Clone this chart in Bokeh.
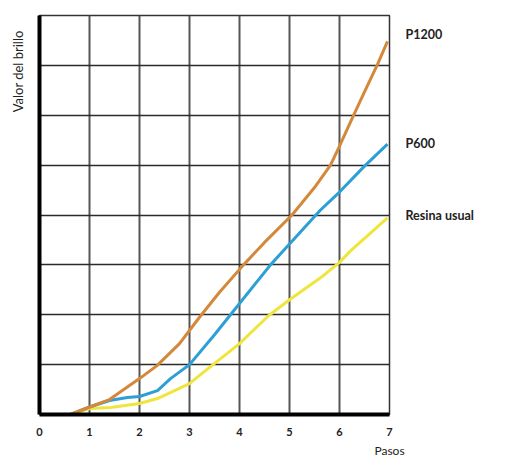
import math
from bokeh.plotting import figure
from bokeh.models import FixedTicker, Range1d, LinearAxis
from bokeh.embed import file_html
from bokeh.resources import INLINE

# Data
steps_tick = [0, 1, 2, 3, 4, 5, 6, 7]
grid_y = [1, 2, 3, 4, 5, 6, 7, 8]

p1200_x = [0.62, 1.0, 1.4, 2.0, 2.35, 2.8, 3.2, 3.6, 4.08, 4.5, 5.05, 5.5, 5.82, 6.0, 6.26, 6.5, 6.76, 6.96]
p1200_y = [0.0, 0.15, 0.3, 0.72, 0.98, 1.42, 1.95, 2.45, 3.0, 3.45, 4.0, 4.55, 5.0, 5.38, 5.95, 6.47, 7.02, 7.48]

p600_x = [0.62, 1.0, 1.4, 1.76, 2.0, 2.36, 2.62, 3.0, 3.5, 3.82, 4.62, 5.0, 5.62, 6.0, 6.5, 6.96]
p600_y = [0.0, 0.15, 0.28, 0.34, 0.36, 0.48, 0.72, 1.0, 1.6, 2.0, 3.0, 3.42, 4.1, 4.46, 4.98, 5.42]

resina_x = [0.62, 1.0, 1.42, 2.0, 2.36, 3.0, 3.22, 4.0, 4.58, 5.0, 5.62, 6.0, 6.22, 6.96]
resina_y = [0.0, 0.12, 0.14, 0.22, 0.32, 0.62, 0.8, 1.42, 1.98, 2.3, 2.74, 3.05, 3.28, 3.94]

series_names = ["P1200", "P600", "Resina usual"]
series_label_y = [7.62, 5.44, 3.98]

x_title = "Pasos"
y_title = "Valor del brillo"
y_title_pos = 6.88

W, H = 505, 460
p = figure(width=W, height=H, output_backend="svg", toolbar_location=None,
           x_range=Range1d(0, 7), y_range=Range1d(0, 8),
           min_border_left=39, min_border_right=116, min_border_top=15, min_border_bottom=45)
p.background_fill_color = "white"
p.border_fill_color = "white"
p.outline_line_color = "#333333"
p.outline_line_width = 1.5

p.xgrid.ticker = FixedTicker(ticks=steps_tick[1:])
p.ygrid.ticker = FixedTicker(ticks=grid_y)
p.xgrid.grid_line_color = "#555555"
p.xgrid.grid_line_width = 2
p.ygrid.grid_line_color = "#2a2a2a"
p.ygrid.grid_line_width = 1.5

def plain(ax):
    ax.major_tick_line_color = None
    ax.minor_tick_line_color = None
    ax.major_tick_out = 0
    ax.major_tick_in = 0

# main x axis
p.xaxis.ticker = FixedTicker(ticks=steps_tick)
p.xaxis.axis_line_width = 4
p.xaxis.axis_line_color = "black"
plain(p.xaxis[0])
p.xaxis.major_label_standoff = 13
p.xaxis.major_label_text_font = "Lato"
p.xaxis.major_label_text_font_style = "bold"
p.xaxis.major_label_text_font_size = "11px"
p.xaxis.major_label_text_color = "#222222"

# main y axis (thick line only)
p.yaxis.axis_line_width = 4
p.yaxis.axis_line_color = "black"
plain(p.yaxis[0])
p.yaxis.ticker = FixedTicker(ticks=[])
p.yaxis.major_label_text_font_size = "0px"

# "Pasos" title under the 7
ax_t = LinearAxis(ticker=FixedTicker(ticks=[7]), major_label_overrides={7: x_title},
                  axis_line_color=None, major_label_standoff=4,
                  major_label_text_font="Lato", major_label_text_font_size="12px",
                  major_label_text_color="#222222")
plain(ax_t)
p.add_layout(ax_t, "below")

# "Valor del brillo" vertical title near the top
ay_t = LinearAxis(ticker=FixedTicker(ticks=[y_title_pos]), major_label_overrides={y_title_pos: y_title},
                  axis_line_color=None, major_label_standoff=13, major_label_orientation="vertical",
                  major_label_text_font="Lato", major_label_text_font_size="13px",
                  major_label_text_color="#222222")
plain(ay_t)
p.add_layout(ay_t, "left")

# series names on the right
ar = LinearAxis(ticker=FixedTicker(ticks=series_label_y),
                major_label_overrides={v: n for v, n in zip(series_label_y, series_names)},
                axis_line_color=None, major_label_standoff=16,
                major_label_text_font="Lato", major_label_text_font_style="bold",
                major_label_text_font_size="12.5px", major_label_text_color="#222222")
plain(ar)
p.add_layout(ar, "right")

p.line(resina_x, resina_y, line_color="#efe53c", line_width=3)
p.line(p600_x, p600_y, line_color="#2b9fd6", line_width=3)
p.line(p1200_x, p1200_y, line_color="#d4883a", line_width=3)

open("out.html", "w").write(file_html(p, INLINE))
